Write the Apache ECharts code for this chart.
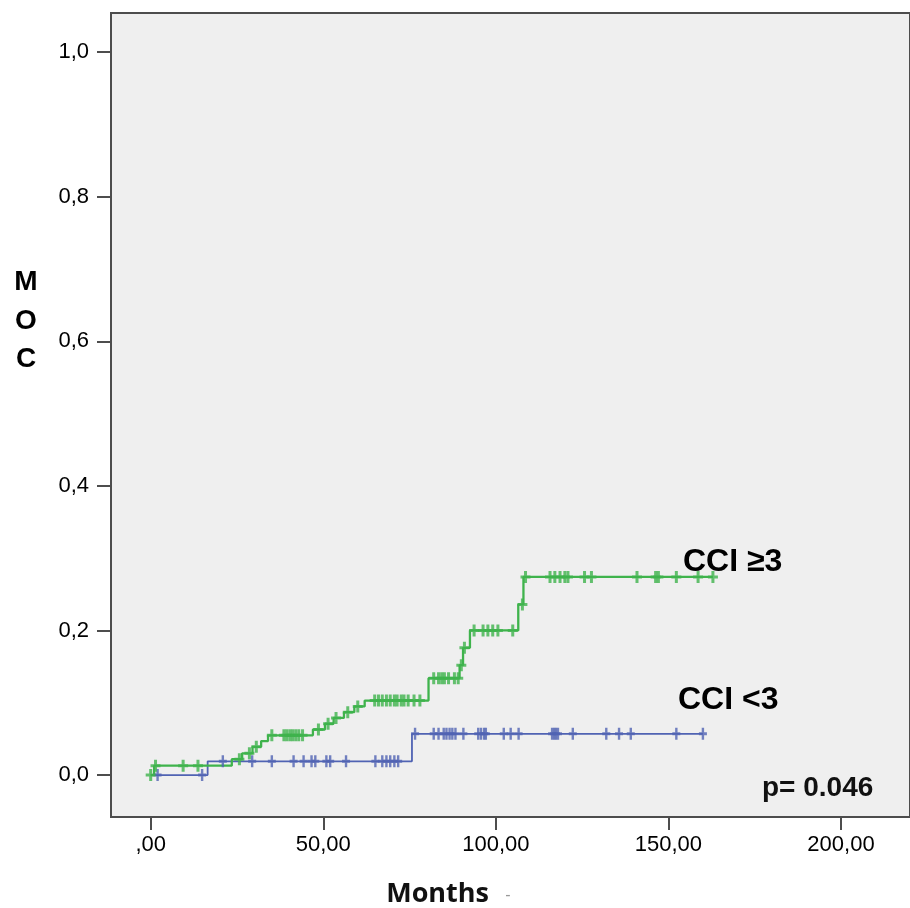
<!DOCTYPE html>
<html>
<head>
<meta charset="utf-8">
<script src="https://cdn.jsdelivr.net/npm/echarts@6/dist/echarts.min.js"></script>
<style>
html,body{margin:0;padding:0;background:#fff;}
#chart{width:910px;height:908px;}
</style>
</head>
<body>
<div id="chart"></div>
<script>
// Kaplan-Meier style cumulative event curves (months vs MOC)
const greenTimes  = [0, 1.0, 23.5, 26.5, 29.5, 32.0, 34.0, 47.0, 50.5, 53.0, 56.0, 59.0, 62.0, 80.5, 89.5, 90.5, 92.5, 106.5, 108.0, 162.9];
const greenValues = [0, 0.013, 0.022, 0.030, 0.039, 0.047, 0.055, 0.063, 0.071, 0.079, 0.087, 0.095, 0.103, 0.134, 0.152, 0.176, 0.200, 0.236, 0.274, 0.274];
const blueTimes   = [0, 16.5, 75.7, 160.0];
const blueValues  = [0, 0.019, 0.057, 0.057];
const greenCensor = [0.0, 1.4, 9.4, 13.7, 25.7, 28.6, 30.6, 35.1, 38.6, 39.4, 40.3, 41.1, 42.0, 42.9, 44.0,
  48.6, 51.4, 53.7, 57.1, 60.0, 64.9, 66.0, 67.1, 68.3, 69.4, 70.6, 71.4, 72.6, 73.4, 74.6, 76.3, 78.0,
  82.0, 83.4, 84.3, 85.1, 86.3, 88.0, 89.1, 90.0, 90.9, 93.7, 96.3, 97.7, 99.1, 100.6, 104.9, 107.7,
  108.6, 115.7, 117.1, 118.6, 120.0, 120.9, 125.7, 127.7, 140.9, 146.3, 147.1, 152.3, 158.6, 162.9];
const blueCensor  = [2.0, 14.9, 20.9, 29.4, 35.1, 41.4, 44.3, 46.6, 47.7, 50.9, 52.0, 56.6, 65.1, 67.1, 68.3,
  69.4, 70.6, 71.7, 76.6, 82.0, 83.4, 84.9, 85.7, 86.6, 87.4, 88.3, 90.6, 94.9, 95.7, 96.6, 97.1, 102.3,
  104.3, 106.6, 116.3, 116.9, 117.4, 118.0, 122.3, 132.0, 135.7, 139.1, 152.3, 160.0];
const xTicks = [0, 50, 100, 150, 200];
const yTicks = [0, 0.2, 0.4, 0.6, 0.8, 1.0];
const seriesNames = ['CCI ≥3', 'CCI <3'];

function stepValueAt(times, values, t) {
  let v = values[0];
  for (let i = 0; i < times.length; i++) { if (times[i] <= t) v = values[i]; }
  return v;
}
const greenLine = greenTimes.map((t, i) => [t, greenValues[i]]);
const blueLine = blueTimes.map((t, i) => [t, blueValues[i]]);
const greenMarks = greenCensor.map(t => [t, stepValueAt(greenTimes, greenValues, t)]);
const blueMarks = blueCensor.map(t => [t, stepValueAt(blueTimes, blueValues, t)]);

const GREEN = '#3fb34c';
const BLUE = '#5063b3';
const plus = 'path://M3.5,0 L6.5,0 L6.5,4.5 L10,4.5 L10,7.5 L6.5,7.5 L6.5,12 L3.5,12 L3.5,7.5 L0,7.5 L0,4.5 L3.5,4.5 Z';
const FONT = '"Liberation Sans", Arial, sans-serif';

const chart = echarts.init(document.getElementById('chart'), null, {renderer: 'canvas'});
chart.setOption({
  animation: false,
  backgroundColor: '#ffffff',
  grid: {left: 111, top: 13, width: 810, height: 804, show: true,
         backgroundColor: '#efefef', borderColor: '#4d4d4d', borderWidth: 2},
  xAxis: {
    type: 'value', min: -11.5, max: 220,
    axisLine: {show: false, onZero: false},
    splitLine: {show: false},
    axisTick: {show: true, customValues: xTicks, length: 13, lineStyle: {color: '#4d4d4d', width: 2}},
    axisLabel: {customValues: xTicks, margin: 17, color: '#000', fontSize: 22, fontFamily: FONT,
      formatter: v => v === 0 ? ',00' : v + ',00'}
  },
  yAxis: {
    type: 'value', min: -0.058, max: 1.054,
    axisLine: {show: false, onZero: false},
    splitLine: {show: false},
    axisTick: {show: true, customValues: yTicks, length: 14, lineStyle: {color: '#4d4d4d', width: 2}},
    axisLabel: {customValues: yTicks, margin: 22, color: '#000', fontSize: 22, fontFamily: FONT,
      formatter: v => v.toFixed(1).replace('.', ',')}
  },
  series: [
    {name: seriesNames[1], type: 'line', step: 'end', data: blueLine, symbol: 'none',
     lineStyle: {color: BLUE, width: 1.8}, z: 2},
    {name: seriesNames[0], type: 'line', step: 'end', data: greenLine, symbol: 'none',
     lineStyle: {color: GREEN, width: 2.3}, z: 3},
    {name: seriesNames[1], type: 'scatter', data: blueMarks, symbol: plus, symbolSize: [8, 12],
     itemStyle: {color: BLUE}, z: 4},
    {name: seriesNames[0], type: 'scatter', data: greenMarks, symbol: plus, symbolSize: [10, 12],
     itemStyle: {color: GREEN}, z: 5}
  ],
  graphic: [
    {type: 'text', x: 683, y: 562, style: {text: seriesNames[0], font: 'bold 32px ' + FONT, fill: '#000', verticalAlign: 'middle'}},
    {type: 'text', x: 678, y: 700, style: {text: seriesNames[1], font: 'bold 32px ' + FONT, fill: '#000', verticalAlign: 'middle'}},
    {type: 'text', x: 762, y: 788, style: {text: 'p= 0.046', font: 'bold 28px ' + FONT, fill: '#111', verticalAlign: 'middle'}},
    {type: 'text', x: 26, y: 282, style: {text: 'M', font: 'bold 28px ' + FONT, fill: '#000', align: 'center', verticalAlign: 'middle'}},
    {type: 'text', x: 26, y: 321, style: {text: 'O', font: 'bold 28px ' + FONT, fill: '#000', align: 'center', verticalAlign: 'middle'}},
    {type: 'text', x: 26, y: 359, style: {text: 'C', font: 'bold 28px ' + FONT, fill: '#000', align: 'center', verticalAlign: 'middle'}},
    {type: 'text', x: 489, y: 894, style: {text: 'Months', font: 'bold 27px "Open Sans", ' + FONT, fill: '#111', align: 'right', verticalAlign: 'middle'}},
    {type: 'text', x: 508, y: 896, style: {text: '-', font: '16px ' + FONT, fill: '#999', align: 'center', verticalAlign: 'middle'}}
  ]
});
</script>
</body>
</html>
